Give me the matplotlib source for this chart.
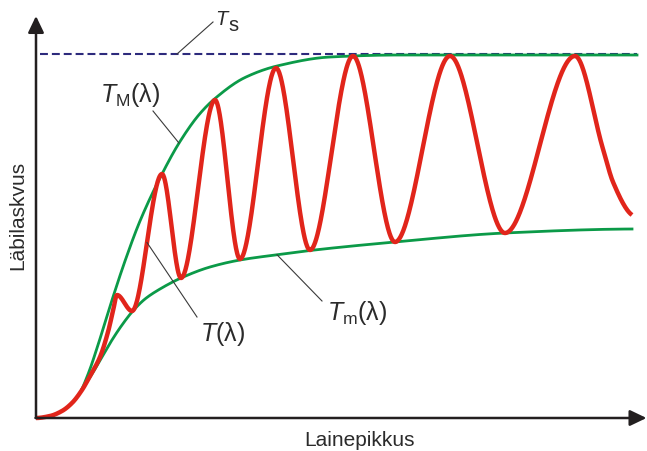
import numpy as np
import matplotlib
matplotlib.use("Agg")
import matplotlib.pyplot as plt

plt.rcParams['font.family'] = ['Liberation Sans', 'DejaVu Sans']
plt.rcParams['mathtext.fontset'] = 'custom'
plt.rcParams['mathtext.rm'] = 'Liberation Sans'
plt.rcParams['mathtext.it'] = 'Liberation Sans:italic'

# -------------------------------
# Values (wavelength, transmission)
# -------------------------------

T_s = 0.91

t_x = [300, 328, 352, 372, 392, 408, 428, 444, 454, 462, 492, 552, 590, 658,
       708, 780, 848, 934, 1018, 1128, 1238, 1378, 1434, 1454, 1492]
t_y = [0.0, 0.005, 0.0175, 0.0375, 0.07, 0.105, 0.1525, 0.215, 0.2675, 0.3075,
       0.2675, 0.61, 0.35, 0.795, 0.3975, 0.875, 0.42, 0.905, 0.44, 0.905,
       0.4625, 0.905, 0.6725, 0.59, 0.5075]

tM_x = [392, 408, 424, 454, 478, 508, 552, 588, 628, 658, 718, 782, 888,
        1028, 1228, 1502]
tM_y = [0.0725, 0.1225, 0.1825, 0.3025, 0.3925, 0.4925, 0.61, 0.69125,
        0.76125, 0.79875, 0.85125, 0.88, 0.9025, 0.9075, 0.9075, 0.9075]

tm_x = [392, 412, 432, 452, 472, 492, 518, 548, 590, 648, 708, 778, 848,
        1018, 1238, 1492]
tm_y = [0.0725, 0.11, 0.1525, 0.195, 0.2325, 0.265, 0.2975, 0.3225, 0.35,
        0.3775, 0.395, 0.4075, 0.41875, 0.44, 0.4625, 0.4725]

ts_x = [308, 1502]


def smooth(xk, yk, xs):
    # monotone cubic (pchip) so the drawn line passes through the read points
    xk = np.asarray(xk, float)
    yk = np.asarray(yk, float)
    h = np.diff(xk)
    d = np.diff(yk) / h
    n = len(xk)
    m = np.zeros(n)
    for i in range(1, n - 1):
        if d[i - 1] * d[i] > 0:
            w1 = 2 * h[i] + h[i - 1]
            w2 = h[i] + 2 * h[i - 1]
            m[i] = (w1 + w2) / (w1 / d[i - 1] + w2 / d[i])

    def end(h0, h1, d0, d1):
        e = ((2 * h0 + h1) * d0 - h0 * d1) / (h0 + h1)
        if np.sign(e) != np.sign(d0):
            e = 0.0
        elif np.sign(d0) != np.sign(d1) and abs(e) > abs(3 * d0):
            e = 3 * d0
        return e

    m[0] = end(h[0], h[1], d[0], d[1])
    m[-1] = end(h[-1], h[-2], d[-1], d[-2])
    xs = np.asarray(xs, float)
    k = np.clip(np.searchsorted(xk, xs) - 1, 0, n - 2)
    t = (xs - xk[k]) / h[k]
    return ((2 * t**3 - 3 * t**2 + 1) * yk[k] + (t**3 - 2 * t**2 + t) * h[k] * m[k]
            + (-2 * t**3 + 3 * t**2) * yk[k + 1] + (t**3 - t**2) * h[k] * m[k + 1])


# -------------------------------
# Figure
# -------------------------------

fig = plt.figure(figsize=(6.47, 4.52), dpi=100)
ax = fig.add_axes([0, 0, 1, 1])
ax.set_xlim(228, 1522)
ax.set_ylim(-0.0825, 1.0475)
ax.axis('off')

red = '#e1251b'
green = '#0b9a48'
navy = '#2d2a7c'
ink = '#231f20'
txt = '#2b2b2b'

ax.plot(ts_x, [T_s, T_s], color=navy, lw=1.5, dashes=(3.8, 1.9), zorder=1)

xs = np.linspace(t_x[0], t_x[-1], 1500)
ax.plot(xs, smooth(t_x, t_y, xs), color=red, lw=3.2, zorder=3,
        solid_capstyle='butt')

xs = np.linspace(tM_x[0], tM_x[-1], 800)
ax.plot(xs, smooth(tM_x, tM_y, xs), color=green, lw=2.0, zorder=2)

xs = np.linspace(tm_x[0], tm_x[-1], 800)
ax.plot(xs, smooth(tm_x, tm_y, xs), color=green, lw=2.0, zorder=2)

# axes with arrow heads
arrow = dict(arrowstyle='-|>,head_length=0.5,head_width=0.24', lw=1.8,
             color=ink, shrinkA=0, shrinkB=0, mutation_scale=20)
ax.annotate('', xy=(300, 1.005), xytext=(300, 0), arrowprops=arrow, zorder=4)
ax.annotate('', xy=(1521, 0), xytext=(299, 0), arrowprops=arrow, zorder=4)

ax.text(264, 0.51, 'Läbilaskvus', rotation=90, ha='center', va='center',
        fontsize=15, color=txt)
ax.text(948, -0.055, 'Lainepikkus', ha='center', va='center',
        fontsize=15, color=txt)

# labels with leader lines
lead = dict(color='#3a3a3a', lw=0.8, zorder=5)

ax.plot([582, 654], [T_s, 0.99], **lead)
ax.text(659, 0.985, 'T', style='italic', fontsize=14.5, color=txt,
        ha='left', va='baseline')
ax.text(684, 0.97, 's', fontsize=14.5, color=txt, ha='left', va='baseline')

ax.plot([534, 586], [0.7675, float(smooth(tM_x, tM_y, [586])[0])], **lead)
ax.text(428, 0.7925, r'$T_{\mathrm{M}}$(λ)', fontsize=18, color=txt,
        ha='left', va='baseline')

ax.plot([522, 622], [float(smooth(t_x, t_y, [522])[0]), 0.2525], **lead)
ax.text(628, 0.195, r'$T$(λ)', fontsize=18, color=txt,
        ha='left', va='baseline')

ax.plot([782, 872], [float(smooth(tm_x, tm_y, [782])[0]), 0.2925], **lead)
ax.text(882, 0.2475, r'$T_{\mathrm{m}}$(λ)', fontsize=18, color=txt,
        ha='left', va='baseline')

fig.savefig('out.png', dpi=100)
